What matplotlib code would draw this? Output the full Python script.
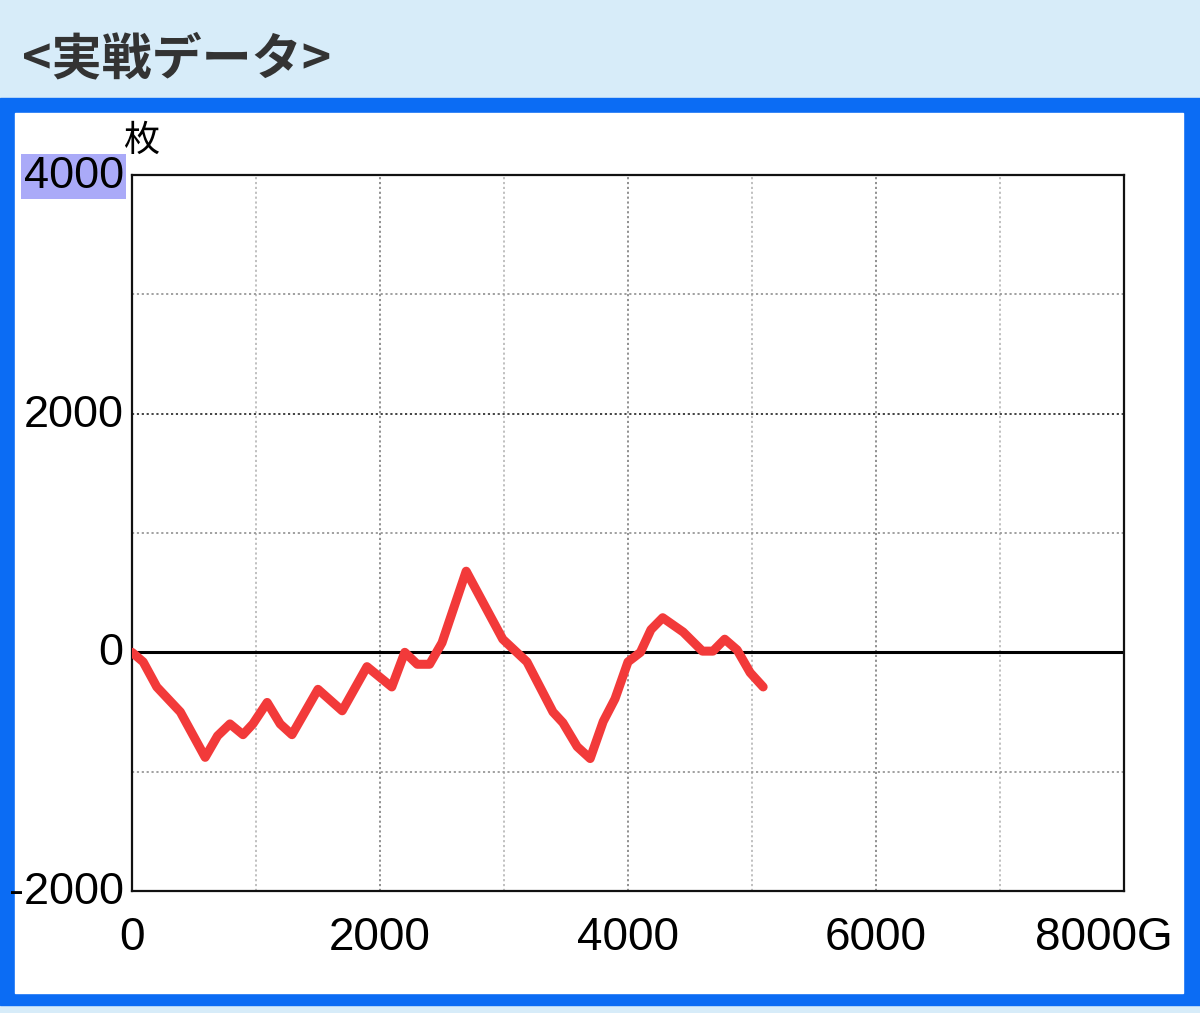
import matplotlib.pyplot as plt
from matplotlib.patches import Rectangle
from matplotlib.transforms import ScaledTranslation

# games played vs medal difference
games = [0, 90, 200, 390, 590, 690, 790, 895, 975, 1090, 1195, 1290, 1500, 1695,
         1895, 2095, 2200, 2300, 2400, 2500, 2695, 2990, 3185, 3395, 3475, 3590,
         3695, 3800, 3895, 4000, 4100, 4185, 4280, 4445, 4600, 4685, 4780, 4880,
         4985, 5090]
medals = [0, -80, -290, -500, -880, -700, -600, -690, -600, -420, -600, -690, -310,
          -490, -120, -290, 0, -100, -100, 80, 680, 110, -80, -500, -590, -790,
          -890, -580, -390, -80, 0, 190, 290, 170, 10, 10, 110, 20, -170, -290]

x_ticks = [0, 2000, 4000, 6000, 8000]
x_labels = ["0", "2000", "4000", "6000", "8000G"]
y_ticks = [-2000, 0, 2000, 4000]
y_labels = ["-2000", "0", "2000", "4000"]

fig = plt.figure(figsize=(12, 10.13), dpi=100)
fig.patch.set_facecolor("#d7ecf9")

# blue frame and white panel
W, H = 1200, 1013
fig.patches.append(Rectangle((0, 1 - 1005 / H), 1, (1005 - 98) / H,
                             transform=fig.transFigure, color="#0b6cf4", zorder=-2))
fig.patches.append(Rectangle((15 / W, 1 - 993 / H), (1183 - 15) / W, (993 - 113) / H,
                             transform=fig.transFigure, color="white", zorder=-1))

fig.text(22 / W, 1 - 60 / H, "<実戦データ>", fontsize=36, fontweight="bold",
         color="#333333", va="center", ha="left",
         family=["Noto Sans CJK JP", "DejaVu Sans"])

ax = fig.add_axes([132 / W, 1 - 891 / H, (1124 - 132) / W, (891 - 175) / H])
ax.set_xlim(0, 8000)
ax.set_ylim(-2000, 4000)

# grid
for gx in range(1000, 8000, 1000):
    c = "#888888" if gx % 2000 == 0 else "#bbbbbb"
    ax.axvline(gx, color=c, lw=1.3, ls=(0, (1.2, 1.5)), zorder=1)
for gy in [-1000, 1000, 2000, 3000]:
    c = "#333333" if gy == 2000 else "#999999"
    ax.axhline(gy, color=c, lw=1.3, ls=(0, (1.2, 1.5)), zorder=1)
ax.axhline(0, color="black", lw=2.2, zorder=2)

ax.plot(games, medals, color="#f23a3a", lw=6.5, solid_joinstyle="round",
        solid_capstyle="round", zorder=3)

for s in ax.spines.values():
    s.set_linewidth(1.6)
    s.set_color("#111111")

ax.set_xticks(x_ticks)
ax.set_xticklabels(x_labels, fontsize=33, family="Liberation Sans")
ax.set_yticks(y_ticks)
ax.set_yticklabels(y_labels, fontsize=32.5, family="Liberation Sans")
ax.tick_params(length=0)
ax.tick_params(axis="x", pad=18)
ax.tick_params(axis="y", pad=6)

last = ax.get_xticklabels()[-1]
last.set_transform(last.get_transform() + ScaledTranslation(-0.2, 0, fig.dpi_scale_trans))

# y labels sit a little above their grid lines
for lbl in ax.get_yticklabels():
    lbl.set_transform(lbl.get_transform() + ScaledTranslation(0, 0.03, fig.dpi_scale_trans))

top = ax.get_yticklabels()[-1]
top.set_bbox(dict(facecolor="#aaaaf8", edgecolor="none", pad=1.5))

fig.text(123 / W, 1 - 141 / H, "枚", fontsize=26, va="center", ha="left",
         family=["Noto Sans CJK JP", "DejaVu Sans"])

fig.savefig("out.png", dpi=100, facecolor=fig.get_facecolor())
